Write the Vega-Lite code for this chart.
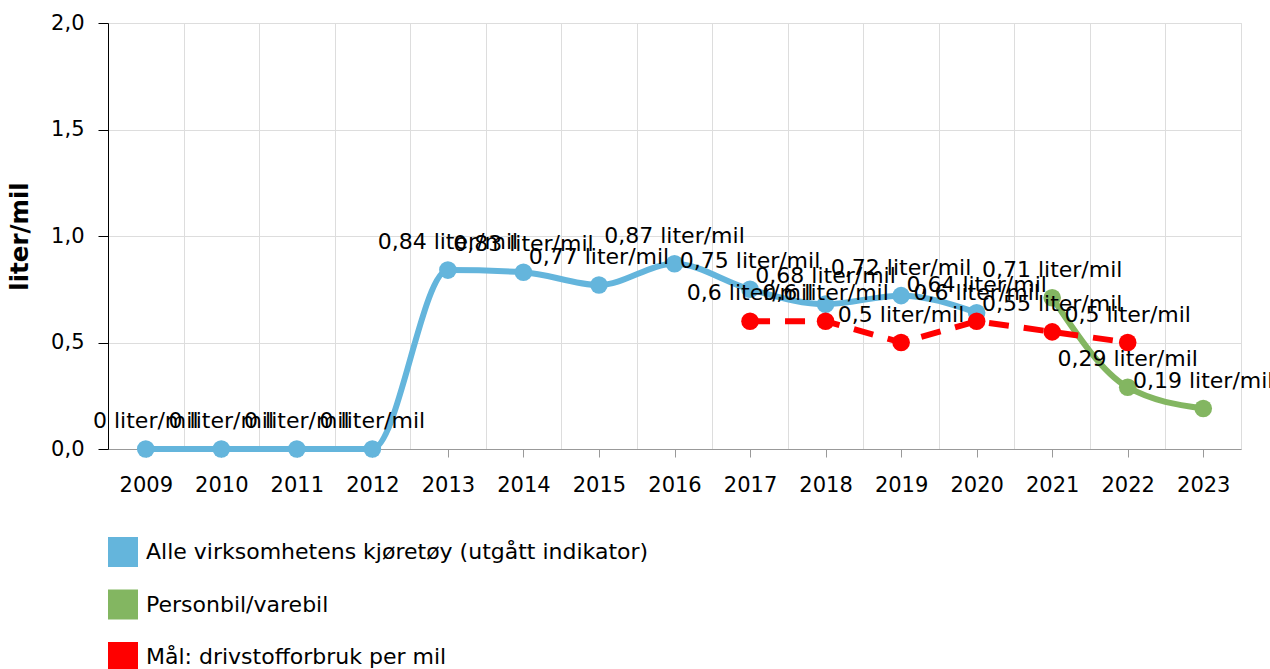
{
  "$schema": "https://vega.github.io/schema/vega-lite/v6.json",
  "width": 1133,
  "height": 426,
  "autosize": {"type": "none"},
  "padding": {"left": 108, "top": 23, "right": 29, "bottom": 220},
  "background": "white",
  "config": {
    "font": "DejaVu Sans",
    "view": {"stroke": "#dddddd", "strokeWidth": 1},
    "axis": {"labelColor": "#000000", "titleColor": "#000000"}
  },
  "data": {
    "values": [
      {"year": 2009, "series": "Alle virksomhetens kjøretøy (utgått indikator)", "value": 0},
      {"year": 2010, "series": "Alle virksomhetens kjøretøy (utgått indikator)", "value": 0},
      {"year": 2011, "series": "Alle virksomhetens kjøretøy (utgått indikator)", "value": 0},
      {"year": 2012, "series": "Alle virksomhetens kjøretøy (utgått indikator)", "value": 0},
      {"year": 2013, "series": "Alle virksomhetens kjøretøy (utgått indikator)", "value": 0.84},
      {"year": 2014, "series": "Alle virksomhetens kjøretøy (utgått indikator)", "value": 0.83},
      {"year": 2015, "series": "Alle virksomhetens kjøretøy (utgått indikator)", "value": 0.77},
      {"year": 2016, "series": "Alle virksomhetens kjøretøy (utgått indikator)", "value": 0.87},
      {"year": 2017, "series": "Alle virksomhetens kjøretøy (utgått indikator)", "value": 0.75},
      {"year": 2018, "series": "Alle virksomhetens kjøretøy (utgått indikator)", "value": 0.68},
      {"year": 2019, "series": "Alle virksomhetens kjøretøy (utgått indikator)", "value": 0.72},
      {"year": 2020, "series": "Alle virksomhetens kjøretøy (utgått indikator)", "value": 0.64},
      {"year": 2021, "series": "Personbil/varebil", "value": 0.71},
      {"year": 2022, "series": "Personbil/varebil", "value": 0.29},
      {"year": 2023, "series": "Personbil/varebil", "value": 0.19},
      {"year": 2017, "series": "Mål: drivstofforbruk per mil", "value": 0.6},
      {"year": 2018, "series": "Mål: drivstofforbruk per mil", "value": 0.6},
      {"year": 2019, "series": "Mål: drivstofforbruk per mil", "value": 0.5},
      {"year": 2020, "series": "Mål: drivstofforbruk per mil", "value": 0.6},
      {"year": 2021, "series": "Mål: drivstofforbruk per mil", "value": 0.55},
      {"year": 2022, "series": "Mål: drivstofforbruk per mil", "value": 0.5}
    ]
  },
  "transform": [
    {"calculate": "replace(format(datum.value, '~g'), '.', ',') + ' liter/mil'", "as": "label"}
  ],
  "encoding": {
    "y": {
      "field": "value",
      "type": "quantitative",
      "scale": {"domain": [0, 2], "nice": false, "zero": true},
      "axis": {
        "values": [0, 0.5, 1, 1.5, 2],
        "labelExpr": "replace(format(datum.value, '.1f'), '.', ',')",
        "grid": true,
        "gridColor": "#dddddd",
        "gridWidth": 1,
        "tickSize": 10,
        "tickColor": "#000000",
        "domainColor": "#000000",
        "labelFontSize": 21,
        "labelPadding": 14,
        "title": "liter/mil",
        "titleFontSize": 24.5,
        "titleFontWeight": "bold",
        "titleAngle": -90,
        "titleX": -88,
        "titleY": 213,
        "titleAlign": "center",
        "titleBaseline": "middle"
      }
    }
  },
  "layer": [
    {
      "transform": [{"filter": "datum.series !== 'Mål: drivstofforbruk per mil'"}],
      "mark": {"type": "line", "interpolate": "monotone", "strokeWidth": 6},
      "encoding": {
        "x": {
          "field": "year",
          "type": "quantitative",
          "scale": {"domain": [2008.5, 2023.5], "nice": false, "zero": false},
          "axis": {
            "orient": "bottom",
            "values": [2008.5, 2009.5, 2010.5, 2011.5, 2012.5, 2013.5, 2014.5, 2015.5, 2016.5, 2017.5, 2018.5, 2019.5, 2020.5, 2021.5, 2022.5, 2023.5],
            "grid": true,
            "gridColor": "#dddddd",
            "ticks": false,
            "labels": false,
            "domain": false,
            "title": null
          }
        },
        "color": {
          "field": "series",
          "type": "nominal",
          "scale": {
            "domain": ["Alle virksomhetens kjøretøy (utgått indikator)", "Personbil/varebil", "Mål: drivstofforbruk per mil"],
            "range": ["#64b5dc", "#83b661", "#ff0000"]
          },
          "legend": {
            "orient": "bottom",
            "direction": "vertical",
            "title": null,
            "symbolType": "square",
            "symbolSize": 900,
            "symbolStrokeWidth": 0,
            "symbolOpacity": 1,
            "labelFontSize": 22,
            "labelColor": "#000000",
            "labelOffset": 8,
            "rowPadding": 22.5,
            "labelLimit": 800,
            "offset": 42,
            "encode": {
              "symbols": {
                "update": {
                  "fill": {"scale": "color", "field": "value"},
                  "strokeWidth": {"value": 0},
                  "opacity": {"value": 1}
                }
              }
            }
          }
        },
        "detail": {"field": "series"}
      }
    },
    {
      "transform": [{"filter": "datum.series === 'Mål: drivstofforbruk per mil'"}],
      "mark": {"type": "line", "strokeWidth": 6, "strokeDash": [20, 15], "stroke": "#ff0000"},
      "encoding": {
        "x": {"field": "year", "type": "quantitative", "axis": null}
      }
    },
    {
      "mark": {"type": "point", "filled": true, "size": 310, "opacity": 1},
      "encoding": {
        "x": {
          "field": "year",
          "type": "quantitative",
          "axis": {
            "orient": "bottom",
            "values": [2009, 2010, 2011, 2012, 2013, 2014, 2015, 2016, 2017, 2018, 2019, 2020, 2021, 2022, 2023],
            "format": "d",
            "grid": false,
            "tickSize": 8,
            "tickColor": "#999999",
            "domainColor": "#999999",
            "labelFontSize": 21,
            "labelPadding": 17,
            "title": null
          }
        },
        "color": {"field": "series", "type": "nominal"}
      }
    },
    {
      "mark": {"type": "text", "fontSize": 22, "baseline": "middle", "align": "center", "dy": -28, "color": "#000000"},
      "encoding": {
        "x": {"field": "year", "type": "quantitative", "axis": null},
        "text": {"field": "label"}
      }
    }
  ],
  "resolve": {"axis": {"x": "independent"}}
}
